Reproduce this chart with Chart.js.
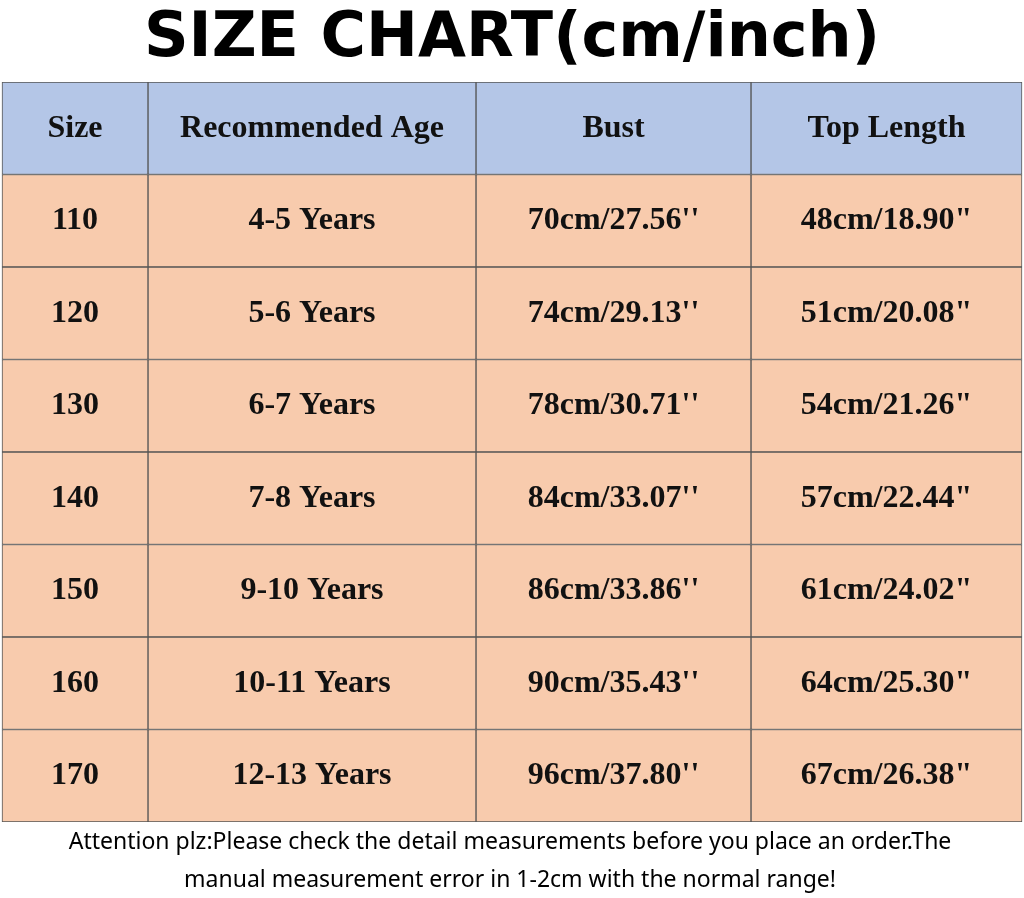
<!DOCTYPE html>
<html><head><meta charset="utf-8">
<script src="https://cdn.jsdelivr.net/npm/chart.js@4/dist/chart.umd.min.js"></script>
<style>html,body{margin:0;padding:0;background:#fff}#c{display:block}</style>
</head><body>
<div style="width:1024px;height:898px"><canvas id="c"></canvas></div>
<script>
const title = "SIZE CHART(cm/inch)";
const headers = ["Size","Recommended Age","Bust","Top Length"];
const sizes = ["110","120","130","140","150","160","170"];
const ages = ["4-5 Years","5-6 Years","6-7 Years","7-8 Years","9-10 Years","10-11 Years","12-13 Years"];
const bust = ["70cm/27.56''","74cm/29.13''","78cm/30.71''","84cm/33.07''","86cm/33.86''","90cm/35.43''","96cm/37.80''"];
const topLength = ["48cm/18.90\"","51cm/20.08\"","54cm/21.26\"","57cm/22.44\"","61cm/24.02\"","64cm/25.30\"","67cm/26.38\""];
const colEdges = [2,148,476,751,1022];
const footer = ["Attention plz:Please check the detail measurements before you place an order.The","manual measurement error in 1-2cm with the normal range!"];

const rows = ["header"].concat(sizes);
const cols = [[headers[0]].concat(sizes),[headers[1]].concat(ages),[headers[2]].concat(bust),[headers[3]].concat(topLength)];
const datasets = cols.map((texts,ci)=>({
  data: rows.map(()=>[colEdges[ci],colEdges[ci+1]]),
  texts,
  backgroundColor: rows.map((r,i)=>i===0?'#b4c6e7':'#f8cbad'),
  borderColor:'#555', borderWidth:1, borderSkipped:false,
  barPercentage:1, categoryPercentage:1, grouped:false
}));
const textPlugin = {id:'txt', afterDatasetsDraw(chart){
  const ctx=chart.ctx; ctx.save(); ctx.textAlign='center'; ctx.textBaseline='middle'; ctx.fillStyle='#111';
  chart.data.datasets.forEach((ds,di)=>{
    chart.getDatasetMeta(di).data.forEach((bar,i)=>{
      ctx.font='bold 32px "Liberation Serif", "DejaVu Serif", serif';
      const x=(bar.x+bar.base)/2;
      ctx.fillText(ds.texts[i], x, bar.y);
    });
  });
  ctx.fillStyle='#000';
  ctx.font='bold 62px "DejaVu Sans", Verdana, sans-serif';
  ctx.fillText(title, 512, 40);
  ctx.font='23px "Noto Sans", "DejaVu Sans", sans-serif';
  ctx.fillText(footer[0], 510, 842);
  ctx.fillText(footer[1], 510, 880);
  ctx.restore();
}};
new Chart(document.getElementById('c'),{
  type:'bar',
  data:{labels:rows, datasets},
  options:{indexAxis:'y', responsive:true, maintainAspectRatio:false, animation:false,
    layout:{padding:{top:82,bottom:76,left:0,right:0}},
    plugins:{legend:{display:false},tooltip:{enabled:false}},
    scales:{x:{type:'linear',min:0,max:1024,display:false},y:{display:false}}},
  plugins:[textPlugin]
});
</script></body></html>
